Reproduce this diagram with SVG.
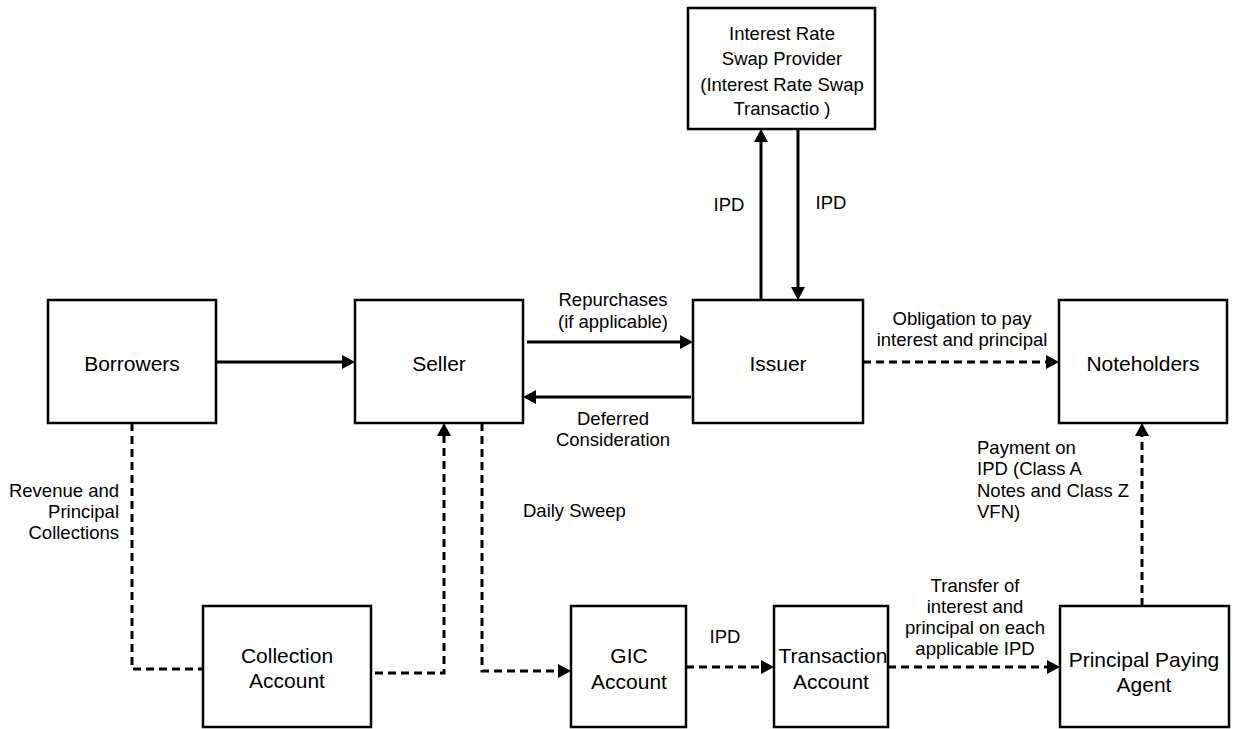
<svg xmlns="http://www.w3.org/2000/svg" width="1237" height="729" viewBox="0 0 1237 729">
<style>
.box{fill:#fff;stroke:#000;stroke-width:2.5}
.t{font-family:"Liberation Sans",Arial,sans-serif;font-size:21px;fill:#000;text-anchor:middle}
.s{font-family:"Liberation Sans",Arial,sans-serif;font-size:18.5px;fill:#000}
.m{text-anchor:middle}
.e{text-anchor:end}
.ln{fill:none;stroke:#000;stroke-width:3}
.d{stroke-dasharray:8,5}
</style>
<defs>
<marker id="ah" markerUnits="userSpaceOnUse" markerWidth="14" markerHeight="14" refX="0" refY="7" orient="auto">
<path d="M0,0 L13,7 L0,14 z" fill="#000"/>
</marker>
</defs>
<rect width="1237" height="729" fill="#fff"/>
<g id="connectors">
<path class="ln" d="M216,362 H342" marker-end="url(#ah)"/>
<path class="ln" d="M527,342 H680" marker-end="url(#ah)"/>
<path class="ln" d="M691,397 H536" marker-end="url(#ah)"/>
<path class="ln" d="M761,300 V142" marker-end="url(#ah)"/>
<path class="ln" d="M798,129 V287" marker-end="url(#ah)"/>
<path class="ln d" d="M863,362 H1046" marker-end="url(#ah)"/>
<path class="ln d" d="M132,423 V669 H203"/>
<path class="ln d" d="M375,673 H444 V436" marker-end="url(#ah)"/>
<path class="ln d" d="M482,423 V671 H558" marker-end="url(#ah)"/>
<path class="ln d" d="M686,667 H761" marker-end="url(#ah)"/>
<path class="ln d" d="M888,667 H1047" marker-end="url(#ah)"/>
<path class="ln d" d="M1142,606 V436" marker-end="url(#ah)"/>
<text class="s m" x="613" y="306">Repurchases</text>
<text class="s m" x="613" y="328">(if applicable)</text>
<text class="s m" x="613" y="425">Deferred</text>
<text class="s m" x="613" y="446">Consideration</text>
<text class="s m" x="729" y="211">IPD</text>
<text class="s m" x="831" y="209">IPD</text>
<text class="s m" x="962" y="325">Obligation to pay</text>
<text class="s m" x="962" y="346">interest and principal</text>
<text class="s e" x="119" y="497">Revenue and</text>
<text class="s e" x="119" y="518">Principal</text>
<text class="s e" x="119" y="539">Collections</text>
<text class="s" x="523" y="517">Daily Sweep</text>
<text class="s m" x="725" y="643">IPD</text>
<text class="s" x="977" y="454">Payment on</text>
<text class="s" x="977" y="475">IPD (Class A</text>
<text class="s" x="977" y="497">Notes and Class Z</text>
<text class="s" x="977" y="518">VFN)</text>
<text class="s m" x="975" y="592">Transfer of</text>
<text class="s m" x="975" y="613">interest and</text>
<text class="s m" x="975" y="634">principal on each</text>
<text class="s m" x="975" y="655">applicable IPD</text>
</g>
<g id="irs">
<rect class="box" x="688" y="8" width="187" height="121"/>
<text class="s m" x="782" y="40">Interest Rate</text>
<text class="s m" x="782" y="65">Swap Provider</text>
<text class="s m" x="782" y="91">(Interest Rate Swap</text>
<text class="s m" x="782" y="115">Transactio )</text>
</g>
<g id="borrowers">
<rect class="box" x="48" y="300" width="168" height="123"/>
<text class="t" x="132" y="371">Borrowers</text>
</g>
<g id="seller">
<rect class="box" x="355" y="300" width="168" height="123"/>
<text class="t" x="439" y="371">Seller</text>
</g>
<g id="issuer">
<rect class="box" x="693" y="300" width="170" height="123"/>
<text class="t" x="778" y="371">Issuer</text>
</g>
<g id="noteholders">
<rect class="box" x="1059" y="300" width="168" height="123"/>
<text class="t" x="1143" y="371">Noteholders</text>
</g>
<g id="collection">
<rect class="box" x="203" y="606" width="168" height="121"/>
<text class="t" x="287" y="663">Collection</text>
<text class="t" x="287" y="688">Account</text>
</g>
<g id="gic">
<rect class="box" x="571" y="606" width="115" height="121"/>
<text class="t" x="629" y="663">GIC</text>
<text class="t" x="629" y="689">Account</text>
</g>
<g id="transaction">
<rect class="box" x="774" y="606" width="114" height="121"/>
<text class="t" x="833" y="663">Transaction</text>
<text class="t" x="831" y="689">Account</text>
</g>
<g id="ppa">
<rect class="box" x="1060" y="606" width="169" height="121"/>
<text class="t" x="1144" y="667">Principal Paying</text>
<text class="t" x="1144" y="692">Agent</text>
</g>
</svg>
